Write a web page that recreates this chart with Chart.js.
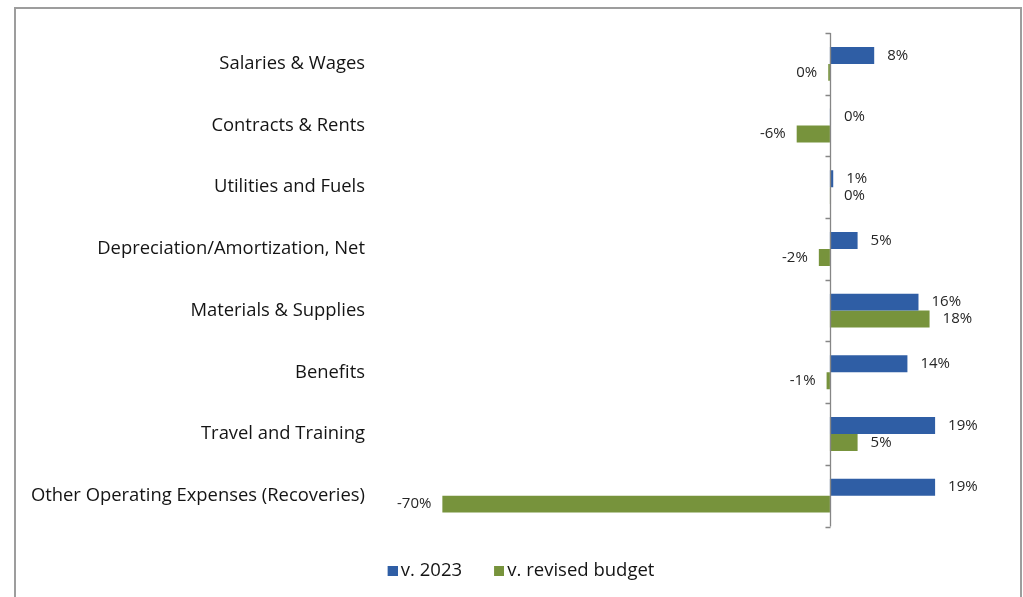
<!DOCTYPE html>
<html>
<head>
<meta charset="utf-8">
<script src="https://cdn.jsdelivr.net/npm/chart.js@4/dist/chart.umd.min.js"></script>
<style>
  html, body { margin: 0; padding: 0; background: #ffffff; overflow: hidden; }
  #wrap { position: absolute; left: 0; top: 0; width: 1023px; height: 597px; }
  #frame {
    position: absolute; left: 14px; top: 7px; width: 1004px; height: 600px;
    border: 2px solid #9d9d9d; border-bottom: none; pointer-events: none;
  }
</style>
</head>
<body>
<div id="wrap">
  <canvas id="chart" width="1023" height="597"></canvas>
  <div id="frame"></div>
</div>
<script>
// Expense categories, listed top to bottom
const categories = [
  'Salaries & Wages',
  'Contracts & Rents',
  'Utilities and Fuels',
  'Depreciation/Amortization, Net',
  'Materials & Supplies',
  'Benefits',
  'Travel and Training',
  'Other Operating Expenses (Recoveries)'
];

// Percentage change against the 2023 actuals
const vs2023 = [8, 0.2, 0.6, 5, 16, 14, 19, 19];

// Percentage change against the revised budget
const vsRevisedBudget = [-0.3, -6, 0.2, -2, 18, -0.6, 5, -70];

const seriesNames = ['v. 2023', 'v. revised budget'];
const seriesColors = ['#2f5ea5', '#77933c'];

const FONT = '"Open Sans", "Noto Sans", sans-serif';

function pctText(v) {
  const r = Math.round(v);
  return (r === 0 ? 0 : r) + '%';
}

// Legend swatch: a small square sitting close to the legend text
function swatch(color) {
  const c = document.createElement('canvas');
  c.width = 38;
  c.height = 10;
  const g = c.getContext('2d');
  g.fillStyle = color;
  g.fillRect(28, 0, 10, 10);
  return c;
}
const swatches = seriesColors.map(swatch);

// Value labels at the end of each bar
const valueLabels = {
  id: 'valueLabels',
  afterDatasetsDraw(chart) {
    const ctx = chart.ctx;
    ctx.save();
    ctx.font = '15px ' + FONT;
    ctx.fillStyle = '#262626';
    ctx.textBaseline = 'middle';
    chart.data.datasets.forEach((ds, di) => {
      const meta = chart.getDatasetMeta(di);
      meta.data.forEach((bar, i) => {
        const v = ds.data[i];
        if (v >= 0) {
          ctx.textAlign = 'left';
          ctx.fillText(pctText(v), bar.x + 13, bar.y);
        } else {
          ctx.textAlign = 'right';
          ctx.fillText(pctText(v), bar.x - 11, bar.y);
        }
      });
    });
    ctx.restore();
  }
};

// Vertical axis line at zero with tick marks between categories
const zeroAxis = {
  id: 'zeroAxis',
  afterDatasetsDraw(chart) {
    const { ctx, chartArea, scales } = chart;
    const x0 = Math.round(scales.x.getPixelForValue(0)) + 0.5;
    const y = scales.y;
    ctx.save();
    ctx.strokeStyle = '#868686';
    ctx.lineWidth = 1.3;
    ctx.beginPath();
    ctx.moveTo(x0, chartArea.top);
    ctx.lineTo(x0, chartArea.bottom);
    for (let i = 0; i <= categories.length; i++) {
      const py = Math.round(y.getPixelForValue(i - 0.5)) + 0.5;
      ctx.moveTo(x0 - 5, py);
      ctx.lineTo(x0, py);
    }
    ctx.stroke();
    ctx.restore();
  }
};

new Chart(document.getElementById('chart'), {
  type: 'bar',
  data: {
    labels: categories,
    datasets: [
      { label: seriesNames[0], data: vs2023, backgroundColor: seriesColors[0] },
      { label: seriesNames[1], data: vsRevisedBudget, backgroundColor: seriesColors[1] }
    ]
  },
  options: {
    indexAxis: 'y',
    responsive: false,
    animation: false,
    devicePixelRatio: 1,
    categoryPercentage: 0.55,
    barPercentage: 1,
    layout: { padding: { left: 24, right: 27, top: 31, bottom: 7 } },
    scales: {
      x: {
        min: -80,
        max: 30,
        grid: { display: false },
        border: { display: false },
        ticks: { display: false },
        afterFit(scale) { scale.height = 25; }
      },
      y: {
        grid: { display: false, drawTicks: false },
        border: { display: false },
        ticks: {
          padding: 22,
          color: '#141414',
          font: { family: FONT, size: 18.4 }
        },
        afterFit(scale) { scale.width = 363; }
      }
    },
    plugins: {
      legend: {
        position: 'bottom',
        labels: {
          usePointStyle: true,
          pointStyleWidth: 26,
          boxHeight: 10,
          padding: 10,
          color: '#141414',
          font: { family: FONT, size: 18.5 },
          generateLabels(chart) {
            const items = Chart.defaults.plugins.legend.labels.generateLabels(chart);
            items.forEach((it) => { it.pointStyle = swatches[it.datasetIndex]; });
            return items;
          }
        }
      },
      tooltip: { enabled: false }
    }
  },
  plugins: [valueLabels, zeroAxis]
});
</script>
</body>
</html>
